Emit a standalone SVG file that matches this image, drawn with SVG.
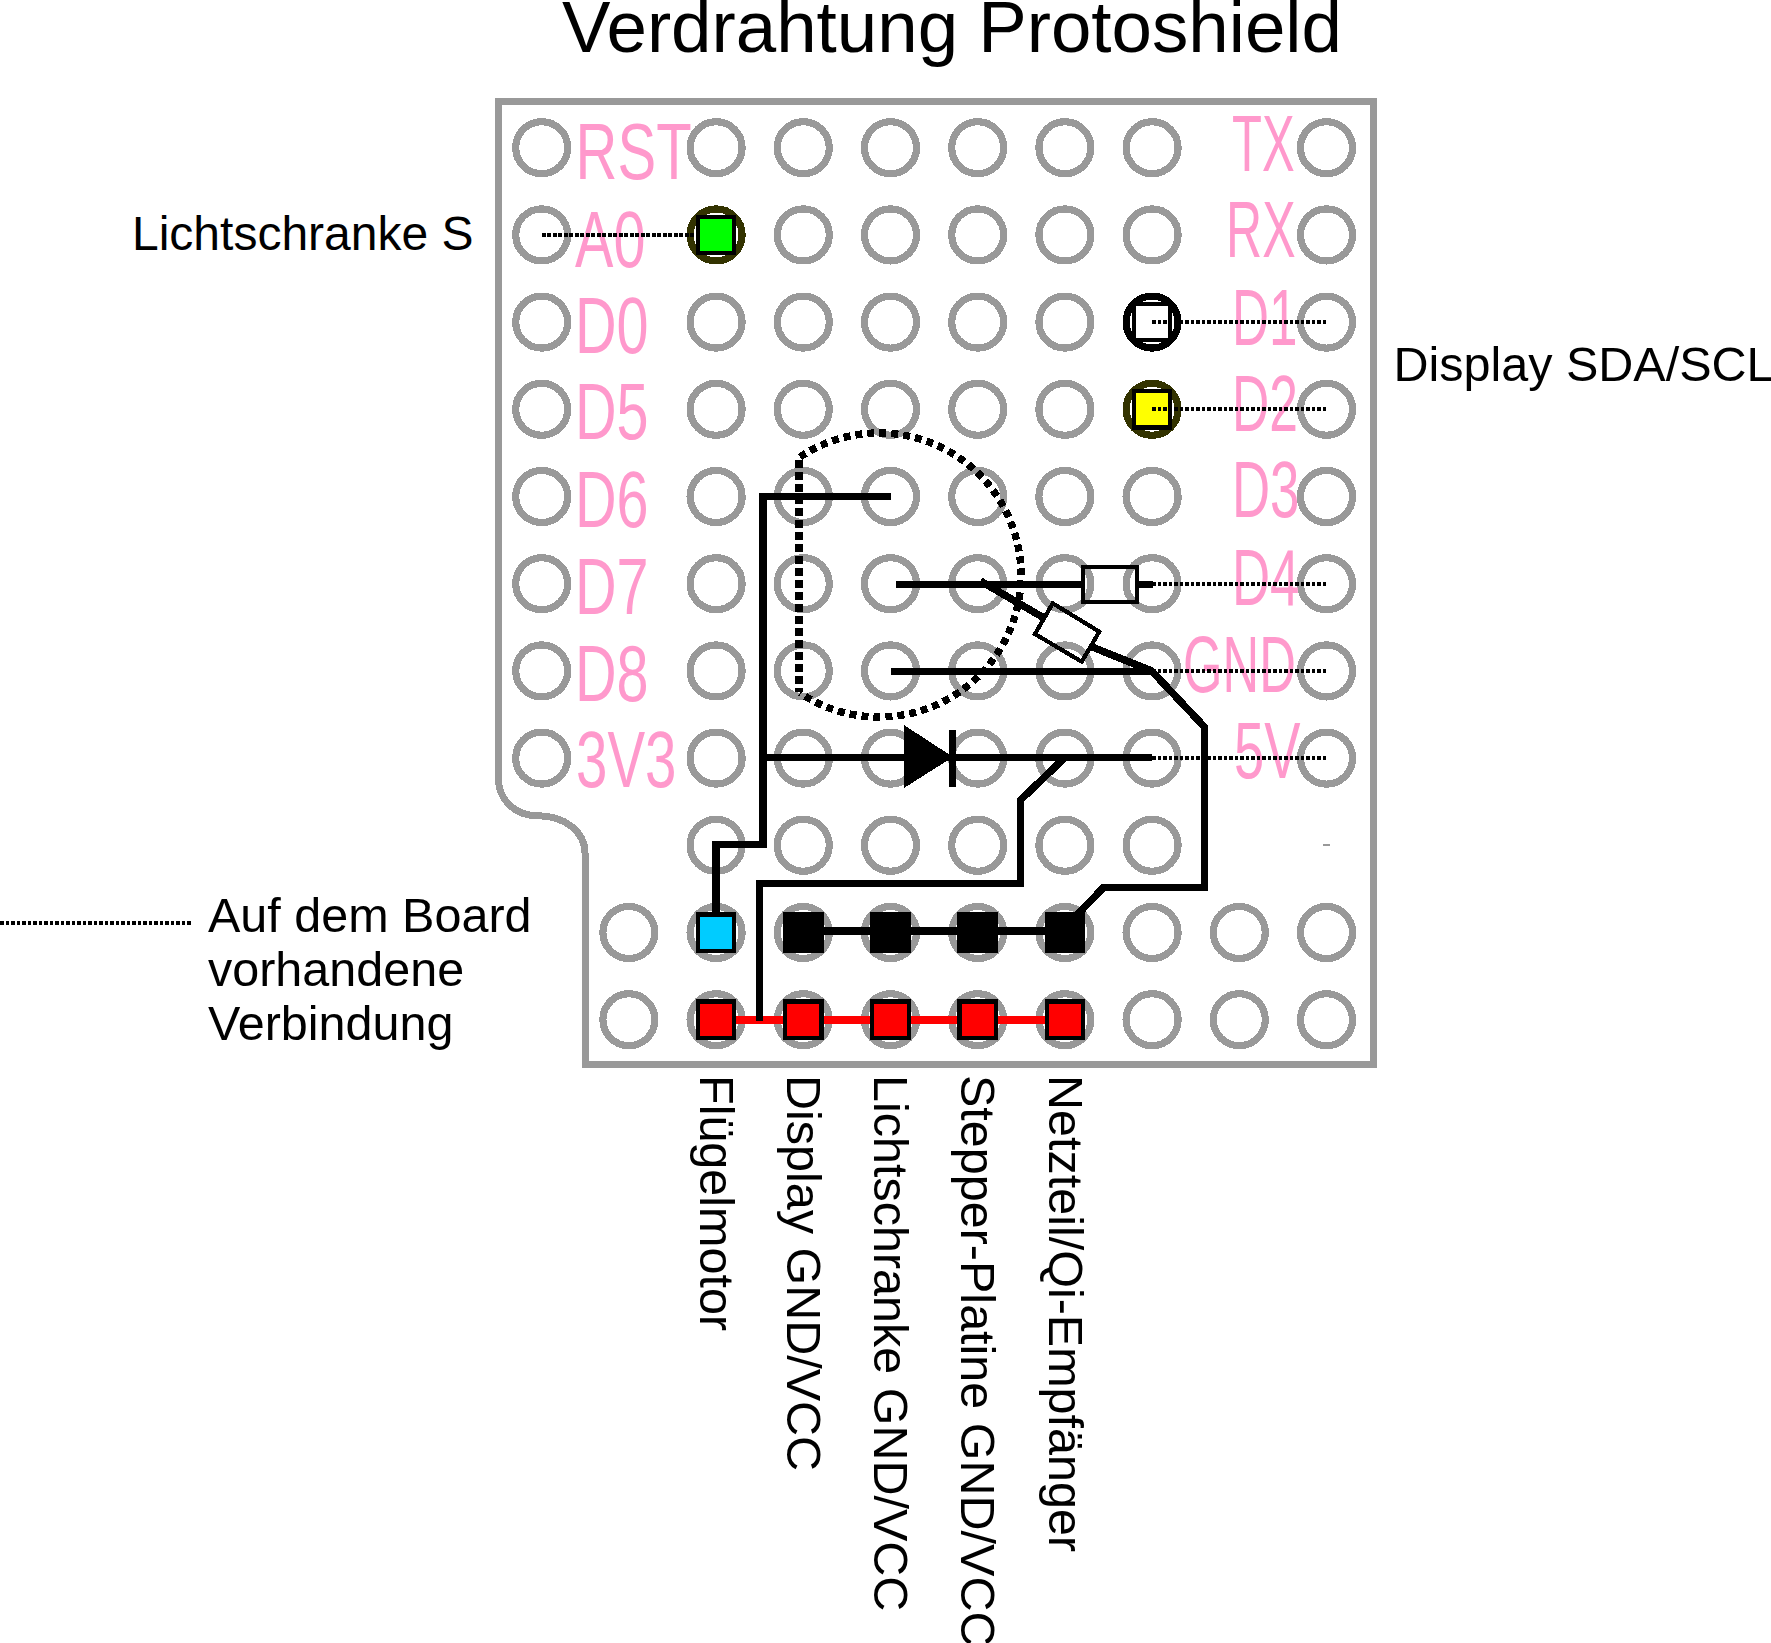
<svg xmlns="http://www.w3.org/2000/svg" width="1771" height="1643" viewBox="0 0 1771 1643">
<style>
text{font-family:"Liberation Sans",Arial,sans-serif}
.t{font-size:48.5px;fill:#000}
.p{font-size:80px;fill:#ff99cc}
circle,path,rect{shape-rendering:crispEdges}
.h{fill:none;stroke:#999;stroke-width:7.2}
.r{fill:none;stroke:#333300;stroke-width:7.2}
.pad{stroke:#000;stroke-width:4.2}
.w{fill:none;stroke:#000;stroke-width:7.4}
.d{fill:none;stroke:#000;stroke-width:3.8;stroke-dasharray:3.8 1.7}
.c{fill:none;stroke:#000;stroke-width:4.2}
</style>
<rect width="1771" height="1643" fill="#fff"/>
<text x="562" y="52" style="font-size:72.7px">Verdrahtung Protoshield</text>
<g id="board"><path d="M498.4 101.7V778C498.4 800 515 815.7 537.4 815.7C565 815.7 585 832 585 853V1064H1373V101.7Z" fill="none" stroke="#999" stroke-width="7"/></g>
<g id="holes">
<circle class="h" cx="541.7" cy="147.7" r="26"/><circle class="h" cx="716.1" cy="147.7" r="26"/><circle class="h" cx="803.3" cy="147.7" r="26"/><circle class="h" cx="890.5" cy="147.7" r="26"/><circle class="h" cx="977.7" cy="147.7" r="26"/><circle class="h" cx="1064.9" cy="147.7" r="26"/><circle class="h" cx="1152.1" cy="147.7" r="26"/><circle class="h" cx="1326.5" cy="147.7" r="26"/>
<circle class="h" cx="541.7" cy="234.9" r="26"/><circle class="r" cx="716.1" cy="234.9" r="26"/><circle class="h" cx="803.3" cy="234.9" r="26"/><circle class="h" cx="890.5" cy="234.9" r="26"/><circle class="h" cx="977.7" cy="234.9" r="26"/><circle class="h" cx="1064.9" cy="234.9" r="26"/><circle class="h" cx="1152.1" cy="234.9" r="26"/><circle class="h" cx="1326.5" cy="234.9" r="26"/>
<circle class="h" cx="541.7" cy="322.1" r="26"/><circle class="h" cx="716.1" cy="322.1" r="26"/><circle class="h" cx="803.3" cy="322.1" r="26"/><circle class="h" cx="890.5" cy="322.1" r="26"/><circle class="h" cx="977.7" cy="322.1" r="26"/><circle class="h" cx="1064.9" cy="322.1" r="26"/><circle class="r" style="stroke:#000" cx="1152.1" cy="322.1" r="26"/><circle class="h" cx="1326.5" cy="322.1" r="26"/>
<circle class="h" cx="541.7" cy="409.3" r="26"/><circle class="h" cx="716.1" cy="409.3" r="26"/><circle class="h" cx="803.3" cy="409.3" r="26"/><circle class="h" cx="890.5" cy="409.3" r="26"/><circle class="h" cx="977.7" cy="409.3" r="26"/><circle class="h" cx="1064.9" cy="409.3" r="26"/><circle class="r" cx="1152.1" cy="409.3" r="26"/><circle class="h" cx="1326.5" cy="409.3" r="26"/>
<circle class="h" cx="541.7" cy="496.5" r="26"/><circle class="h" cx="716.1" cy="496.5" r="26"/><circle class="h" cx="803.3" cy="496.5" r="26"/><circle class="h" cx="890.5" cy="496.5" r="26"/><circle class="h" cx="977.7" cy="496.5" r="26"/><circle class="h" cx="1064.9" cy="496.5" r="26"/><circle class="h" cx="1152.1" cy="496.5" r="26"/><circle class="h" cx="1326.5" cy="496.5" r="26"/>
<circle class="h" cx="541.7" cy="583.7" r="26"/><circle class="h" cx="716.1" cy="583.7" r="26"/><circle class="h" cx="803.3" cy="583.7" r="26"/><circle class="h" cx="890.5" cy="583.7" r="26"/><circle class="h" cx="977.7" cy="583.7" r="26"/><circle class="h" cx="1064.9" cy="583.7" r="26"/><circle class="h" cx="1152.1" cy="583.7" r="26"/><circle class="h" cx="1326.5" cy="583.7" r="26"/>
<circle class="h" cx="541.7" cy="670.9" r="26"/><circle class="h" cx="716.1" cy="670.9" r="26"/><circle class="h" cx="803.3" cy="670.9" r="26"/><circle class="h" cx="890.5" cy="670.9" r="26"/><circle class="h" cx="977.7" cy="670.9" r="26"/><circle class="h" cx="1064.9" cy="670.9" r="26"/><circle class="h" cx="1152.1" cy="670.9" r="26"/><circle class="h" cx="1326.5" cy="670.9" r="26"/>
<circle class="h" cx="541.7" cy="758.1" r="26"/><circle class="h" cx="716.1" cy="758.1" r="26"/><circle class="h" cx="803.3" cy="758.1" r="26"/><circle class="h" cx="890.5" cy="758.1" r="26"/><circle class="h" cx="977.7" cy="758.1" r="26"/><circle class="h" cx="1064.9" cy="758.1" r="26"/><circle class="h" cx="1152.1" cy="758.1" r="26"/><circle class="h" cx="1326.5" cy="758.1" r="26"/>
<circle class="h" cx="716.1" cy="845.3" r="26"/><circle class="h" cx="803.3" cy="845.3" r="26"/><circle class="h" cx="890.5" cy="845.3" r="26"/><circle class="h" cx="977.7" cy="845.3" r="26"/><circle class="h" cx="1064.9" cy="845.3" r="26"/><circle class="h" cx="1152.1" cy="845.3" r="26"/>
<circle class="h" cx="628.9" cy="932.5" r="26"/><circle class="h" cx="716.1" cy="932.5" r="26"/><circle class="h" cx="803.3" cy="932.5" r="26"/><circle class="h" cx="890.5" cy="932.5" r="26"/><circle class="h" cx="977.7" cy="932.5" r="26"/><circle class="h" cx="1064.9" cy="932.5" r="26"/><circle class="h" cx="1152.1" cy="932.5" r="26"/><circle class="h" cx="1239.3" cy="932.5" r="26"/><circle class="h" cx="1326.5" cy="932.5" r="26"/>
<circle class="h" cx="628.9" cy="1019.7" r="26"/><circle class="h" cx="716.1" cy="1019.7" r="26"/><circle class="h" cx="803.3" cy="1019.7" r="26"/><circle class="h" cx="890.5" cy="1019.7" r="26"/><circle class="h" cx="977.7" cy="1019.7" r="26"/><circle class="h" cx="1064.9" cy="1019.7" r="26"/><circle class="h" cx="1152.1" cy="1019.7" r="26"/><circle class="h" cx="1239.3" cy="1019.7" r="26"/><circle class="h" cx="1326.5" cy="1019.7" r="26"/>
<path d="M1323 845.3h7" stroke="#999" stroke-width="2" fill="none"/>
</g>
<g id="pin-labels">
<text class="p" transform="translate(575.6 179.3) scale(.725 1)">RST</text>
<text class="p" transform="translate(575 266.7) scale(.72 1)">A0</text>
<text class="p" transform="translate(575 353.3) scale(.72 1)">D0</text>
<text class="p" transform="translate(575 439.3) scale(.72 1)">D5</text>
<text class="p" transform="translate(575 526.7) scale(.72 1)">D6</text>
<text class="p" transform="translate(575 613.9) scale(.72 1)">D7</text>
<text class="p" transform="translate(575 701.1) scale(.72 1)">D8</text>
<text class="p" transform="translate(576 787) scale(.706 1)">3V3</text>
<text class="p" transform="translate(1232 170.7) scale(.612 1)">TX</text>
<text class="p" transform="translate(1226 257.3) scale(.626 1)">RX</text>
<text class="p" transform="translate(1232 345) scale(.64 1)">D1</text>
<text class="p" transform="translate(1232 431) scale(.645 1)">D2</text>
<text class="p" transform="translate(1232 517.3) scale(.66 1)">D3</text>
<text class="p" transform="translate(1232 604.5) scale(.66 1)">D4</text>
<text class="p" transform="translate(1183 691.7) scale(.635 1)">GND</text>
<text class="p" transform="translate(1234 778.3) scale(.68 1)">5V</text>
</g>
<g id="connectors-under"><path class="d" d="M541.7 234.9H716"/></g>
<g id="pads">
<rect class="pad" x="697.9" y="216.7" width="36.4" height="36.4" fill="#00ff00"/>
<rect class="pad" x="1133.9" y="304" width="36.4" height="36.4" fill="#fff"/>
<rect class="pad" x="1133.9" y="391.1" width="36.4" height="36.4" fill="#ffff00"/>
<rect class="pad" x="697.9" y="914.5" width="36.4" height="36.4" fill="#00ccff"/>
<rect class="pad" x="785.1" y="914.5" width="36.4" height="36.4" fill="#000"/>
<rect class="pad" x="872.3" y="914.5" width="36.4" height="36.4" fill="#000"/>
<rect class="pad" x="959.5" y="914.5" width="36.4" height="36.4" fill="#000"/>
<rect class="pad" x="1046.7" y="914.5" width="36.4" height="36.4" fill="#000"/>
</g>
<g id="connectors">
<path d="M716 1020H1065" fill="none" stroke="#ff0000" stroke-width="7.4"/>
<g id="red-pads">
<rect class="pad" x="697.9" y="1001.5" width="36.4" height="36.4" fill="#ff0000"/>
<rect class="pad" x="785.1" y="1001.5" width="36.4" height="36.4" fill="#ff0000"/>
<rect class="pad" x="872.3" y="1001.5" width="36.4" height="36.4" fill="#ff0000"/>
<rect class="pad" x="959.5" y="1001.5" width="36.4" height="36.4" fill="#ff0000"/>
<rect class="pad" x="1046.7" y="1001.5" width="36.4" height="36.4" fill="#ff0000"/>
</g>
<path class="w" d="M716.1 914V844.5H763V496.3H890.7"/>
<path class="w" d="M763 757.5H1152"/>
<path class="w" d="M759.5 1020.5V883.5H1020.5V800L1065 757.5"/>
<path class="w" d="M890.5 671.3H1152L1204.5 727V887.5H1103.5L1078 914"/>
<path class="w" d="M803 930.8H1065"/>
<path class="w" d="M896 584.3H1083M1136.7 584.3H1153"/>
<path class="w" d="M980.5 581L1044 618M1091 646.5L1152 671"/>
<path d="M904 725L953 757L904 788Z" fill="#000"/>
<path class="w" d="M952.5 730V787"/>
<rect class="c" x="1082.7" y="566.7" width="54" height="35"/>
<path class="c" d="M1052.7 603.3L1099.3 631.7L1081.7 661.7L1035 634Z"/>
<path class="d" d="M1152.1 322.1H1326.5M1152.1 409.3H1326.5M1152.1 584H1326.5M1152.1 671H1326.5M1152.1 758.1H1326.5"/>
<path class="d" d="M0 923H192"/>
<path d="M800 457A142 142 0 1 1 800 693" fill="none" stroke="#000" stroke-width="7.4" stroke-dasharray="7 5"/>
<path d="M799 460V692" fill="none" stroke="#000" stroke-width="8.4" stroke-dasharray="8 4"/>
</g>
<g id="labels">
<text class="t" x="132" y="250.2" style="font-size:48px">Lichtschranke S</text>
<text class="t" x="1393.5" y="380.7">Display SDA/SCL</text>
<text class="t" x="208" y="932">Auf dem Board</text>
<text class="t" x="208" y="986">vorhandene</text>
<text class="t" x="208" y="1040">Verbindung</text>
<text class="t" transform="translate(700 1075) rotate(90)">Flügelmotor</text>
<text class="t" transform="translate(787 1075) rotate(90)">Display GND/VCC</text>
<text class="t" transform="translate(874 1075) rotate(90)">Lichtschranke GND/VCC</text>
<text class="t" transform="translate(961 1075) rotate(90)">Stepper-Platine GND/VCC</text>
<text class="t" transform="translate(1049 1075) rotate(90)">Netzteil/Qi-Empfänger</text>
</g>
</svg>
